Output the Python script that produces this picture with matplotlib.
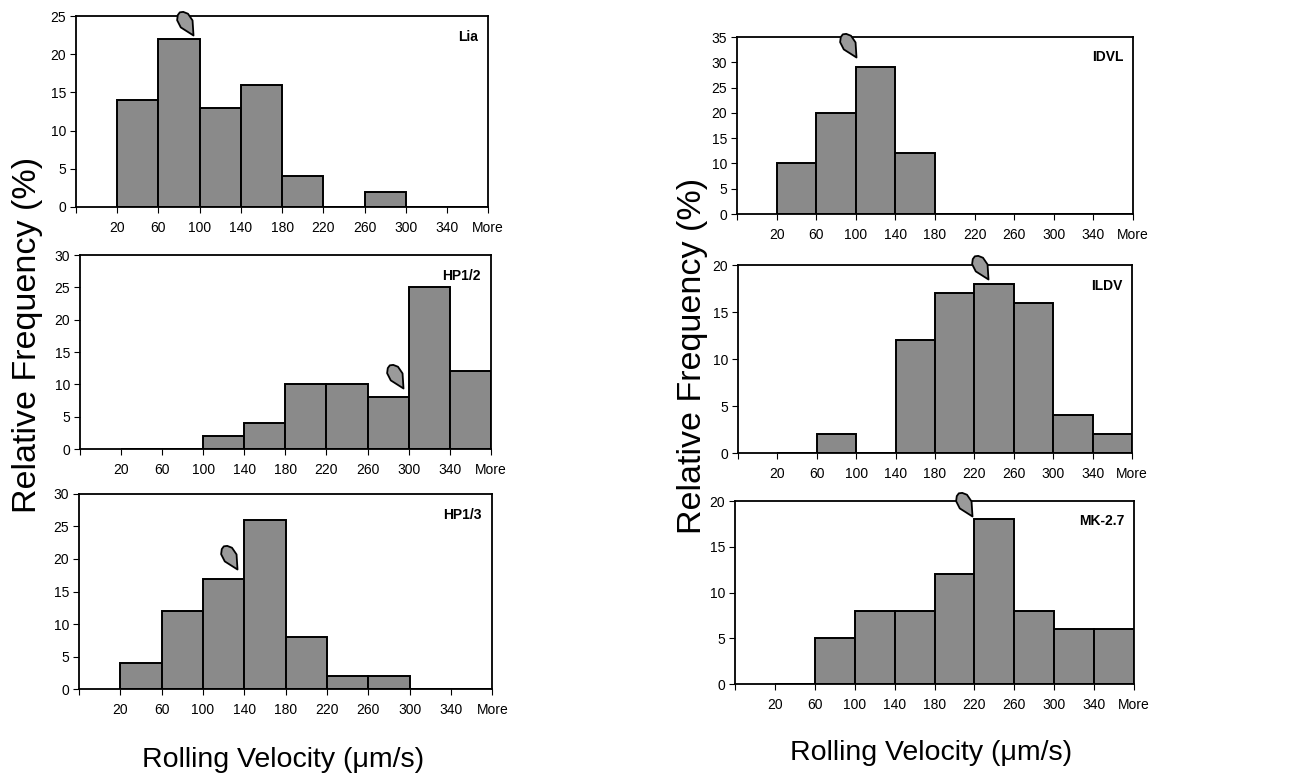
import numpy as np
import matplotlib.pyplot as plt
from matplotlib.path import Path
from matplotlib.markers import MarkerStyle

plt.rcParams['font.family'] = ['Liberation Sans', 'DejaVu Sans']

# bin labels (upper edges as written on the axis)
bin_labels = ['20', '60', '100', '140', '180', '220', '260', '300', '340', 'More']

# relative frequency (%) for the bins 20-60, 60-100, ..., 340-More
lia = [14, 22, 13, 16, 4, 0, 2, 0, 0]
hp12 = [0, 0, 2, 4, 10, 10, 8, 25, 12]
hp13 = [4, 12, 17, 26, 8, 2, 2, 0, 0]
idvl = [10, 20, 29, 12, 0, 0, 0, 0, 0]
ildv = [0, 2, 0, 12, 17, 18, 16, 4, 2]
mk27 = [0, 5, 8, 8, 12, 18, 8, 6, 6]

names = ['Lia', 'HP1/2', 'HP1/3', 'IDVL', 'ILDV', 'MK-2.7']
series = [lia, hp12, hp13, idvl, ildv, mk27]
y_max = [25, 30, 30, 35, 20, 20]

# mean rolling velocity (um/s) marked by the arrow, and arrow tip height (%)
mean_vel = [94, 295, 133, 100, 234, 218]
tip_height = [22.5, 9.4, 18.4, 31.0, 18.5, 18.4]

# axes rectangles [left, bottom, width, height] in figure fractions
boxes = [
    [0.0585, 0.7353, 0.317, 0.2442],
    [0.0615, 0.4258, 0.316, 0.2481],
    [0.0608, 0.1189, 0.318, 0.2494],
    [0.5669, 0.7263, 0.3046, 0.2263],
    [0.5677, 0.4207, 0.3031, 0.2404],
    [0.5654, 0.1253, 0.3069, 0.2340],
]


def vel_to_pos(v):
    # tick i (1..10) sits at label 20 + 40*(i-1)
    return (v - 20) / 40 + 1


# leaf-shaped pointer with its tip at the origin, pointing down-right
d = np.array([-13.0, 22.0])
L = np.linalg.norm(d)
d = d / L
p = np.array([d[1], -d[0]])
pts = [np.zeros(2),
       0.5 * L * d + 6.5 * p,
       0.8 * L * d + 6.0 * p,
       0.95 * L * d + 3.0 * p,
       L * d,
       0.95 * L * d - 3.0 * p,
       0.8 * L * d - 6.0 * p,
       0.5 * L * d - 6.5 * p,
       np.zeros(2)]
leaf = Path(np.array(pts), closed=True)
leaf_marker = MarkerStyle(leaf)

fig = plt.figure(figsize=(13, 7.82), dpi=100)

edges = np.arange(len(bin_labels))
for name, vals, ym, v, th, box in zip(names, series, y_max, mean_vel, tip_height, boxes):
    ax = fig.add_axes(box)
    ax.bar(edges[1:], vals, width=1.0, align='edge', color='#8a8a8a',
           edgecolor='black', linewidth=1.4, zorder=2)
    ax.set_xlim(0, 10)
    ax.set_ylim(0, ym)
    ax.set_xticks(np.arange(11))
    ax.set_xticklabels([''] + bin_labels)
    ax.set_yticks(np.arange(0, ym + 1, 5))
    ax.tick_params(direction='out', length=4, width=0.8, labelsize=10, pad=6)
    ax.tick_params(axis='y', pad=3)
    for s in ax.spines.values():
        s.set_linewidth(1.3)
    ax.text(0.975, 0.89, name, transform=ax.transAxes, ha='right', va='center',
            fontsize=10, fontweight='bold')
    ax.plot([vel_to_pos(v)], [th], marker=leaf_marker, markersize=34,
            markerfacecolor='#9a9a9a', markeredgecolor='black',
            markeredgewidth=1.3, linestyle='none', clip_on=False, zorder=5)

fig.text(0.021, 0.572, 'Relative Frequency (%)', rotation=90, ha='center',
         va='center', fontsize=24.5)
fig.text(0.533, 0.545, 'Relative Frequency (%)', rotation=90, ha='center',
         va='center', fontsize=24.5)
fig.text(0.218, 0.028, 'Rolling Velocity (\u03bcm/s)', ha='center', va='center',
         fontsize=20.5)
fig.text(0.716, 0.037, 'Rolling Velocity (\u03bcm/s)', ha='center', va='center',
         fontsize=20.5)

fig.savefig('out.png', dpi=100)
